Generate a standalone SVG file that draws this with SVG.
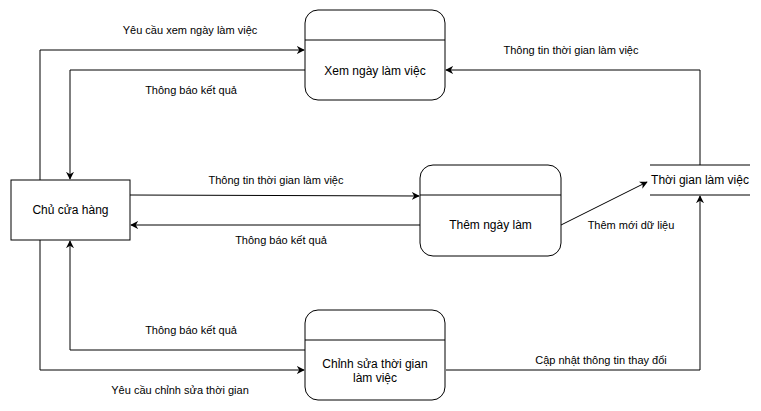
<svg xmlns="http://www.w3.org/2000/svg" width="761" height="411" viewBox="0 0 761 411">
<defs>
<style>
.n{fill:#fff;stroke:#000;stroke-width:1}
.l{fill:none;stroke:#000;stroke-width:1}
.e{fill:none;stroke:#000;stroke-width:1;marker-end:url(#a)}
.t{font-family:"Liberation Sans",Arial,sans-serif;font-size:12px;fill:#000;text-anchor:middle}
.el{font-family:"Liberation Sans",Arial,sans-serif;font-size:11px;fill:#000;text-anchor:middle}
</style>
<marker id="a" viewBox="0 0 10 10" refX="9" refY="5" markerWidth="8" markerHeight="8" markerUnits="userSpaceOnUse" orient="auto">
<path d="M0,0 L10,5 L0,10 L3,5 Z" fill="#000"/>
</marker>
</defs>
<rect width="761" height="411" fill="#fff"/>
<g id="connectors">
<path class="e" d="M40,180 L40,50 L304,50"/>
<path class="e" d="M305,70 L70,70 L70,179"/>
<path class="e" d="M700,165 L700,70 L446,70"/>
<path class="e" d="M130,195 L419,196"/>
<path class="e" d="M420,225 L131,225"/>
<path class="e" d="M561,225 L647,182"/>
<path class="e" d="M305,350 L70,350 L70,241"/>
<path class="e" d="M40,240 L40,370 L304,370"/>
<path class="e" d="M446,370 L700,370 L700,196"/>
<text class="el" x="190" y="34">Yêu cầu xem ngày làm việc</text>
<text class="el" x="191" y="94">Thông báo kết quả</text>
<text class="el" x="571" y="54">Thông tin thời gian làm việc</text>
<text class="el" x="276" y="184">Thông tin thời gian làm việc</text>
<text class="el" x="281" y="244">Thông báo kết quả</text>
<text class="el" x="631" y="229">Thêm mới dữ liệu</text>
<text class="el" x="191" y="334">Thông báo kết quả</text>
<text class="el" x="180" y="394">Yêu cầu chỉnh sửa thời gian</text>
<text class="el" x="601" y="364">Cập nhật thông tin thay đổi</text>
</g>
<g id="chu-cua-hang">
<rect class="n" x="11" y="180" width="119" height="60"/>
<text class="t" x="70.5" y="214">Chủ cửa hàng</text>
</g>
<g id="xem-ngay-lam-viec">
<rect class="n" x="305" y="10" width="140" height="90" rx="13" ry="13"/>
<line class="l" x1="305" y1="40" x2="445" y2="40"/>
<text class="t" x="375" y="75">Xem ngày làm việc</text>
</g>
<g id="them-ngay-lam">
<rect class="n" x="420" y="165" width="141" height="91" rx="13" ry="13"/>
<line class="l" x1="420" y1="195" x2="561" y2="195"/>
<text class="t" x="490.5" y="229">Thêm ngày làm</text>
</g>
<g id="chinh-sua">
<rect class="n" x="305" y="310" width="140" height="90" rx="13" ry="13"/>
<line class="l" x1="305" y1="340" x2="445" y2="340"/>
<text class="t" x="375" y="368">Chỉnh sửa thời gian</text>
<text class="t" x="375" y="382">làm việc</text>
</g>
<g id="thoi-gian-lam-viec">
<line class="l" x1="650" y1="165" x2="750" y2="165"/>
<line class="l" x1="650" y1="195" x2="750" y2="195"/>
<text class="t" x="700" y="184">Thời gian làm việc</text>
</g>
</svg>
